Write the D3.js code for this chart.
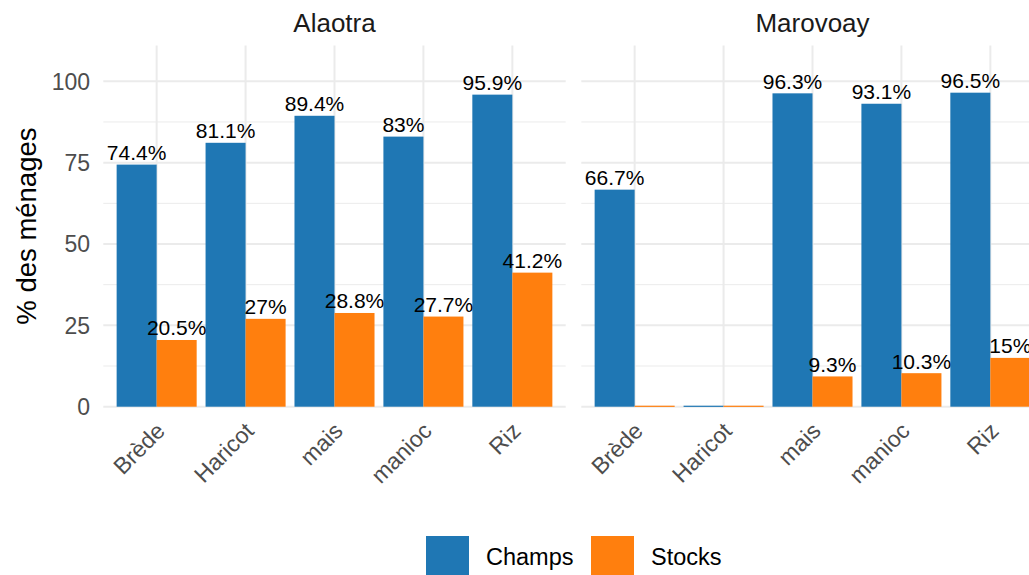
<!DOCTYPE html>
<html><head><meta charset="utf-8">
<script src="https://cdn.jsdelivr.net/npm/d3@7"></script>
<style>body{margin:0;background:#fff}svg{display:block;font-family:"Liberation Sans",Arial,sans-serif}</style>
</head><body><svg id="c" width="1029" height="575"></svg>
<script>
const regions = ["Alaotra", "Marovoay"];
const categories = ["Brède", "Haricot", "mais", "manioc", "Riz"];
const series = ["Champs", "Stocks"];
const colors = ["#1F77B4", "#FF7F0E"];
const alaotraChamps = [74.4, 81.1, 89.4, 83, 95.9];
const alaotraStocks = [20.5, 27, 28.8, 27.7, 41.2];
const marovoayChamps = [66.7, 0, 96.3, 93.1, 96.5];
const marovoayStocks = [0, 0, 9.3, 10.3, 15];
const yTicks = [0, 25, 50, 75, 100];
const yMinor = [12.5, 37.5, 62.5, 87.5];
const yMax = 111;

const values = {
  Alaotra: {Champs: alaotraChamps, Stocks: alaotraStocks},
  Marovoay: {Champs: marovoayChamps, Stocks: marovoayStocks}
};

const svg = d3.select("#c");
const pTop = 45.5, pBottom = 406.7;
const panelW = 462.4, gap = 15.6, left0 = 103.3;

const fx = d3.scaleBand().domain(regions)
  .range([left0, left0 + 2 * panelW + gap])
  .paddingInner(gap / (panelW + gap)).paddingOuter(0);
const y = d3.scaleLinear().domain([0, yMax]).range([pBottom, pTop]);
const color = d3.scaleOrdinal().domain(series).range(colors);

regions.forEach(r => {
  const x0 = fx(r);
  const g = svg.append("g");
  const x = d3.scaleBand().domain(categories).range([x0, x0 + fx.bandwidth()])
    .paddingInner(0.1).paddingOuter(0.15);
  const xs = d3.scaleBand().domain(series).range([0, x.bandwidth()]);
  g.selectAll(".mn").data(yMinor).join("line")
    .attr("x1", x0).attr("x2", x0 + fx.bandwidth())
    .attr("y1", d => y(d)).attr("y2", d => y(d))
    .attr("stroke", "#EBEBEB").attr("stroke-width", 1);
  g.selectAll(".mj").data(yTicks).join("line")
    .attr("x1", x0).attr("x2", x0 + fx.bandwidth())
    .attr("y1", d => y(d)).attr("y2", d => y(d))
    .attr("stroke", "#EBEBEB").attr("stroke-width", 2);
  g.selectAll(".vx").data(categories).join("line")
    .attr("x1", d => x(d) + x.bandwidth() / 2).attr("x2", d => x(d) + x.bandwidth() / 2)
    .attr("y1", pTop).attr("y2", pBottom)
    .attr("stroke", "#EBEBEB").attr("stroke-width", 2);
  const rows = [];
  categories.forEach((c, i) => series.forEach(s => rows.push({c, s, v: values[r][s][i]})));
  g.selectAll(".bar").data(rows).join("rect")
    .attr("x", d => x(d.c) + xs(d.s))
    .attr("width", xs.bandwidth())
    .attr("y", d => d.v === 0 ? y(0) - 1 : y(d.v))
    .attr("height", d => d.v === 0 ? 1.2 : y(0) - y(d.v))
    .attr("fill", d => color(d.s));
  g.selectAll(".lbl").data(rows.filter(d => d.v > 0)).join("text")
    .attr("x", d => x(d.c) + xs(d.s) + xs.bandwidth() / 2)
    .attr("y", d => y(d.v) - 4.5)
    .attr("text-anchor", "middle")
    .attr("font-size", 21).attr("fill", "#000")
    .text(d => d.v + "%");
  g.selectAll(".xt").data(categories).join("text")
    .attr("transform", d => `translate(${x(d) + x.bandwidth() / 2 - 2},${pBottom + 14}) rotate(-45)`)
    .attr("text-anchor", "end").attr("dy", "0.72em")
    .attr("font-size", 23).attr("fill", "#4D4D4D")
    .text(d => d);
  g.append("text").attr("x", x0 + fx.bandwidth() / 2).attr("y", 31.7)
    .attr("text-anchor", "middle").attr("font-size", 26).attr("fill", "#1A1A1A").text(r);
});

svg.selectAll(".yt").data(yTicks).join("text")
  .attr("x", 90).attr("y", d => y(d)).attr("dy", "0.36em")
  .attr("text-anchor", "end").attr("font-size", 23).attr("fill", "#4D4D4D")
  .text(d => d);
svg.append("text").attr("transform", `translate(36,${(pTop + pBottom) / 2}) rotate(-90)`)
  .attr("text-anchor", "middle").attr("font-size", 27.5).attr("fill", "#000")
  .text("% des ménages");

const lg = svg.append("g");
const legX = [426, 591];
series.forEach((s, i) => {
  lg.append("rect").attr("x", legX[i]).attr("y", 536).attr("width", 43).attr("height", 39).attr("fill", colors[i]);
  lg.append("text").attr("x", legX[i] + 60).attr("y", 557).attr("dy", "0.36em")
    .attr("font-size", 23.5).attr("fill", "#000").text(s);
});
</script></body></html>
